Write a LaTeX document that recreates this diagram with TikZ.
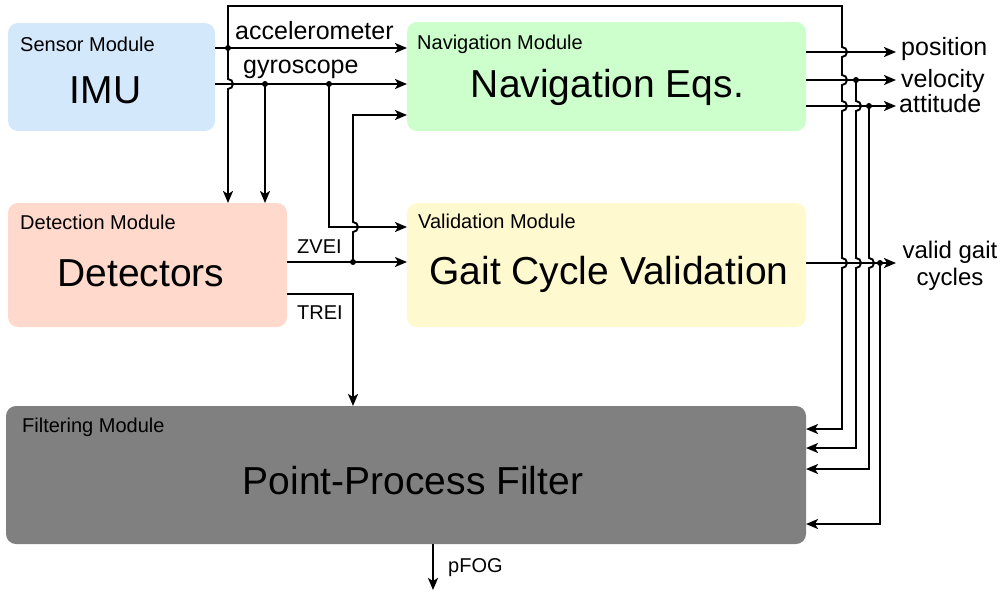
\documentclass[tikz,border=0pt]{standalone}
\usepackage{fontspec}
\setmainfont{Liberation Sans}
\usetikzlibrary{arrows.meta,calc}

\definecolor{sensorfill}{HTML}{D4E8FC}
\definecolor{navfill}{HTML}{CCFFCC}
\definecolor{detfill}{HTML}{FFD9CC}
\definecolor{valfill}{HTML}{FFF9D0}
\definecolor{filtfill}{HTML}{808080}

% semicircular line jumps, bulging to the right of a vertical wire
\newcommand\hopdown[2]{-- (#1,#2-5) arc[start angle=-90,end angle=90,radius=5]}
\newcommand\hopup[2]{-- (#1,#2+5) arc[start angle=90,end angle=-90,radius=5]}

\begin{document}
\begin{tikzpicture}[x=1pt,y=-1pt,
  box/.style={draw=none, rounded corners=10pt, inner sep=0pt, outer sep=0pt},
  modlabel/.style={inner sep=0pt, anchor=base west, font=\fontsize{20}{24}\selectfont},
  bigtext/.style={inner sep=0pt, anchor=base, font=\fontsize{39}{44}\selectfont},
  wirelabel/.style={inner sep=0pt, anchor=base west, font=\fontsize{25}{28}\selectfont},
  sigtext/.style={inner sep=0pt, anchor=base west, font=\fontsize{20}{24}\selectfont},
  wire/.style={line width=1.9pt},
  arrow/.style={wire, -{Stealth[length=12pt,width=10pt,inset=3pt]}},
  dot/.style={circle, fill=black, inner sep=0pt, minimum size=6pt}
]
\useasboundingbox (0,0) rectangle (1008,592);

% module boxes
\node[box, fill=sensorfill, minimum width=207pt, minimum height=108pt] (imu) at (111.5,77) {};
\node[box, fill=navfill, minimum width=399pt, minimum height=109pt] (nav) at (606.5,76.5) {};
\node[box, fill=detfill, minimum width=279pt, minimum height=124pt] (det) at (147.5,265) {};
\node[box, fill=valfill, minimum width=399pt, minimum height=124pt] (val) at (606.5,265) {};
\node[box, fill=filtfill, minimum width=800pt, minimum height=138pt] (filt) at (406,475) {};

% module titles
\node[modlabel] (imuT) at (20,51) {Sensor Module};
\node[modlabel] (navT) at (417,49) {Navigation Module};
\node[modlabel] (detT) at (20,229) {Detection Module};
\node[modlabel] (valT) at (418,228) {Validation Module};
\node[modlabel] (filtT) at (22,432) {Filtering Module};

% module contents
\node[bigtext] (imuB) at (105.5,103) {IMU};
\node[bigtext] (navB) at (607.5,97) {Navigation Eqs.};
\node[bigtext] (detB) at (141,286) {Detectors};
\node[bigtext] (valB) at (609,284) {Gait Cycle Validation};
\node[bigtext] (filtB) at (413,494) {Point-Process Filter};

% branch points and corners
\coordinate (ja) at (228,48);
\coordinate (jg1) at (265,84);
\coordinate (jg2) at (329,84);
\coordinate (jz) at (353,262);
\coordinate (cv) at (329,227);
\coordinate (cn) at (353,115);
\coordinate (ct) at (353,294);
\coordinate (top1) at (228,6);
\coordinate (top2) at (842,6);
\coordinate (f1) at (842,429);
\coordinate (jv) at (856,80);
\coordinate (f2) at (856,448);
\coordinate (jt) at (869,106);
\coordinate (f3) at (869,469);
\coordinate (jc) at (880,263);
\coordinate (f4) at (880,524);
\coordinate (opos) at (896,52);
\coordinate (ovel) at (896,80);
\coordinate (oatt) at (896,106);
\coordinate (ogait) at (896,263);
\coordinate (opfog) at (433,590);

% IMU signals
\draw[arrow] (imu.east |- ja) -- (nav.west |- ja);
\draw[arrow] (imu.east |- jg1) -- (nav.west |- jg1);
\draw[arrow] (ja) \hopdown{228}{84} -- (ja |- det.north);
\draw[arrow] (jg1) -- (jg1 |- det.north);
\draw[arrow] (jg2) -- (cv) -- (val.west |- cv);

% detector outputs
\draw[arrow] (det.east |- jz) -- (val.west |- jz);
\draw[arrow] (jz) \hopup{353}{227} -- (cn) -- (nav.west |- cn);
\draw[arrow] (det.east |- ct) -- (ct) -- (ct |- filt.north);

% navigation and validation outputs
\draw[arrow] (nav.east |- opos) -- (opos);
\draw[arrow] (nav.east |- ovel) -- (ovel);
\draw[arrow] (nav.east |- oatt) -- (oatt);
\draw[arrow] (val.east |- ogait) -- (ogait);

% feeds into the filter
\draw[arrow] (ja) -- (top1) -- (top2) \hopdown{842}{52} \hopdown{842}{80} \hopdown{842}{106} \hopdown{842}{263} -- (f1) -- (filt.east |- f1);
\draw[arrow] (jv) \hopdown{856}{106} \hopdown{856}{263} -- (f2) -- (filt.east |- f2);
\draw[arrow] (jt) \hopdown{869}{263} -- (f3) -- (filt.east |- f3);
\draw[arrow] (jc) -- (f4) -- (filt.east |- f4);
\draw[arrow] (filt.south -| opfog) -- (opfog);

% junction dots
\foreach \p in {ja,jg1,jg2,jz,jv,jt,jc} \node[dot] at (\p) {};

% signal labels
\node[wirelabel] (laccel) at (235,39) {accelerometer};
\node[wirelabel] (lgyro) at (243,73) {gyroscope};
\node[sigtext] (lzvei) at (297,253) {ZVEI};
\node[sigtext] (ltrei) at (297,319) {TREI};
\node[sigtext] (lpfog) at (448,572) {pFOG};
\node[wirelabel] (lpos) at (901,55) {position};
\node[wirelabel] (lvel) at (901,87) {velocity};
\node[wirelabel] (latt) at (899,112) {attitude};
\node[inner sep=0pt, anchor=base, align=center, font=\fontsize{24}{27}\selectfont] (lgait) at (950,285) {valid gait\\cycles};
\end{tikzpicture}
\end{document}
